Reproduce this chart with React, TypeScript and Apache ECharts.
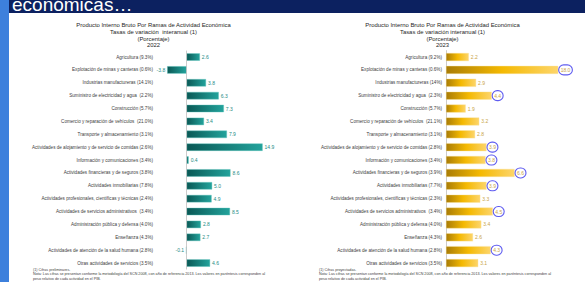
import React, { useEffect, useRef } from "react";
import * as echarts from "echarts";

const categories2022 = [
  "Agricultura (9.3%)",
  "Explotación de minas y canteras (0.6%)",
  "Industrias manufactureras (14.1%)",
  "Suministro de electricidad y agua  (2.2%)",
  "Construcción (5.7%)",
  "Comercio y reparación de vehículos  (21.0%)",
  "Transporte y almacenamiento (3.1%)",
  "Actividades de alojamiento y de servicio de comidas (2.6%)",
  "Información y comunicaciones (3.4%)",
  "Actividades financieras y de seguros (3.8%)",
  "Actividades inmobiliarias (7.8%)",
  "Actividades profesionales, científicas y técnicas (2.4%)",
  "Actividades de servicios administrativos  (3.4%)",
  "Administración pública y defensa (4.0%)",
  "Enseñanza (4.3%)",
  "Actividades de atención de la salud humana (2.8%)",
  "Otras actividades de servicios (3.5%)",
];
const values2022 = [2.6, -3.8, 3.8, 6.3, 7.3, 3.4, 7.9, 14.9, 0.4, 8.6, 5.0, 4.9, 8.5, 2.8, 2.7, -0.1, 4.6];

const categories2023 = [
  "Agricultura (9.2%)",
  "Explotación de minas y canteras (0.6%)",
  "Industrias manufactureras (14%)",
  "Suministro de electricidad y agua  (2.3%)",
  "Construcción (5.7%)",
  "Comercio y reparación de vehículos  (21.1%)",
  "Transporte y almacenamiento (3.1%)",
  "Actividades de alojamiento y de servicio de comidas (2.8%)",
  "Información y comunicaciones (3.4%)",
  "Actividades financieras y de seguros (3.9%)",
  "Actividades inmobiliarias (7.7%)",
  "Actividades profesionales, científicas y técnicas (2.3%)",
  "Actividades de servicios administrativos  (3.4%)",
  "Administración pública y defensa (4.0%)",
  "Enseñanza (4.3%)",
  "Actividades de atención de la salud humana (2.8%)",
  "Otras actividades de servicios (3.5%)",
];
const values2023 = [2.2, 18.0, 2.9, 4.4, 1.9, 3.2, 2.8, 3.9, 3.8, 6.6, 3.9, 3.3, 4.5, 3.4, 2.6, 4.3, 3.1];
const circled2023 = [false, true, false, true, false, false, false, true, true, true, true, false, true, false, false, true, false];

// bars longer than this are drawn with an axis break
const BREAK_CAP = 10.8;
const BREAK_AT = 8.75;

const titleLines2022 = [
  "Producto Interno Bruto Por Ramas de Actividad Económica",
  "Tasas de variación  interanual (1)",
  "(Porcentaje)",
  "2022",
];
const titleLines2023 = [
  "Producto Interno Bruto Por Ramas de Actividad Económica",
  "Tasas de variación interanual (1)",
  "(Porcentaje)",
  "2023",
];
const noteText =
  "Nota: Las cifras se presentan conforme la metodología del SCN 2008, con año de referencia 2013. Los valores en paréntesis corresponden al";
const noteText2 = "peso relativo de cada actividad en el PIB.";

const FONT = "Liberation Sans, Arial, sans-serif";

export default function App() {
  const ref = useRef<HTMLDivElement>(null);
  useEffect(() => {
    if (!ref.current) return;
    const chart = echarts.init(ref.current, null, { renderer: "svg" });

    const tealGrad = new echarts.graphic.LinearGradient(0, 0, 1, 0, [
      { offset: 0, color: "#0a5855" },
      { offset: 1, color: "#23a39c" },
    ]);
    const goldGrad = new echarts.graphic.LinearGradient(0, 0, 1, 0, [
      { offset: 0, color: "#a97c06" },
      { offset: 0.5, color: "#f4b902" },
      { offset: 1, color: "#fdd56a" },
    ]);

    const data2022 = values2022.map((v) => ({
      value: v,
      label: { position: v < 0 ? "left" : "right" },
    }));
    const data2023 = values2023.map((v, i) => {
      const item: any = { value: Math.min(v, BREAK_CAP) };
      if (circled2023[i]) {
        item.label = {
          borderColor: "#5f5cf0",
          borderWidth: 1.1,
          borderRadius: 6,
          padding: [3, 2, 2, 2],
          distance: 0.5,
        };
      }
      return item;
    });

    const catLabel = {
      fontSize: 4.6,
      color: "#404040",
      fontFamily: FONT,
    };

    chart.setOption({
      animation: false,
      grid: [
        { left: 156, width: 132.6, top: 50.6, height: 218.9 },
        { left: 446, width: 135, top: 50.6, height: 218.9 },
      ],
      xAxis: [
        { gridIndex: 0, type: "value", min: -6, max: 20, show: false, splitLine: { show: false } },
        { gridIndex: 1, type: "value", min: 0, max: 13, show: false, splitLine: { show: false } },
      ],
      yAxis: [
        {
          gridIndex: 0,
          type: "category",
          inverse: true,
          data: categories2022,
          axisLine: { show: false },
          axisTick: { show: false },
          axisLabel: { ...catLabel, margin: 3 },
        },
        {
          gridIndex: 1,
          type: "category",
          inverse: true,
          data: categories2023,
          axisLine: { show: true, lineStyle: { color: "#bfbfbf", width: 0.8 } },
          axisTick: { show: false },
          axisLabel: { ...catLabel, margin: 4 },
        },
      ],
      series: [
        {
          type: "bar",
          xAxisIndex: 0,
          yAxisIndex: 0,
          data: data2022,
          barCategoryGap: "43%",
          itemStyle: { color: tealGrad, borderColor: "#58c2bb", borderWidth: 0.4 },
          label: {
            show: true,
            position: "right",
            distance: 2,
            fontSize: 5,
            color: "#1c8c86",
            fontFamily: FONT,
            formatter: (p: any) => values2022[p.dataIndex].toFixed(1),
          },
          markLine: {
            silent: true,
            symbol: "none",
            label: { show: false },
            lineStyle: { color: "#bfbfbf", width: 0.8, type: "solid" },
            data: [{ xAxis: 0 }],
          },
        },
        {
          type: "bar",
          xAxisIndex: 1,
          yAxisIndex: 1,
          data: data2023,
          barCategoryGap: "38%",
          itemStyle: { color: goldGrad, borderColor: "#fbe3a0", borderWidth: 0.4 },
          label: {
            show: true,
            position: "right",
            distance: 2,
            fontSize: 5,
            color: "#c9a447",
            fontFamily: FONT,
            formatter: (p: any) => values2023[p.dataIndex].toFixed(1),
          },
        },
      ],
    });

    const graphics: any[] = [
      { type: "rect", shape: { x: 0, y: 0, width: 9, height: 282 }, style: { fill: "#3d80dc" } },
      { type: "rect", shape: { x: 9, y: 0, width: 576, height: 13 }, style: { fill: "#0c2160" } },
      {
        type: "text",
        x: 12,
        y: 14,
        style: {
          text: "económicas…",
          fill: "#ffffff",
          fontSize: 19,
          fontFamily: FONT,
          verticalAlign: "bottom",
        },
      },
    ];
    const addTitle = (lines: string[], cx: number) => {
      lines.forEach((t, i) => {
        graphics.push({
          type: "text",
          x: cx,
          y: 25 + i * 6.8,
          style: { text: t, fill: "#262626", fontSize: 5.9, fontFamily: FONT, align: "center", verticalAlign: "middle" },
        });
      });
    };
    addTitle(titleLines2022, 153.5);
    addTitle(titleLines2023, 442.5);

    const addNotes = (first: string, x: number) => {
      [first, noteText, noteText2].forEach((t, i) => {
        graphics.push({
          type: "text",
          x,
          y: 270 + i * 4.3,
          style: { text: t, fill: "#404040", fontSize: 3.7, fontFamily: FONT, verticalAlign: "middle" },
        });
      });
    };
    addNotes("(1) Cifras preliminares.", 33);
    addNotes("(1) Cifras proyectadas.", 319);

    values2023.forEach((v, i) => {
      if (v > BREAK_CAP) {
        const p = chart.convertToPixel({ xAxisIndex: 1, yAxisIndex: 1 } as any, [BREAK_AT, i]) as number[];
        const x = p[0];
        const y = p[1];
        graphics.push({
          type: "polyline",
          shape: {
            points: [
              [x + 1.8, y - 5],
              [x - 1.2, y - 1.6],
              [x + 1.8, y + 1.6],
              [x - 1.2, y + 5],
            ],
          },
          style: { stroke: "#ffffff", lineWidth: 1.8, fill: "none" },
        });
      }
    });

    chart.setOption({ graphic: graphics });

    return () => chart.dispose();
  }, []);

  return (
    <div
      ref={ref}
      style={{ position: "absolute", left: 0, top: 0, width: 585, height: 282, background: "#ffffff" }}
    />
  );
}
